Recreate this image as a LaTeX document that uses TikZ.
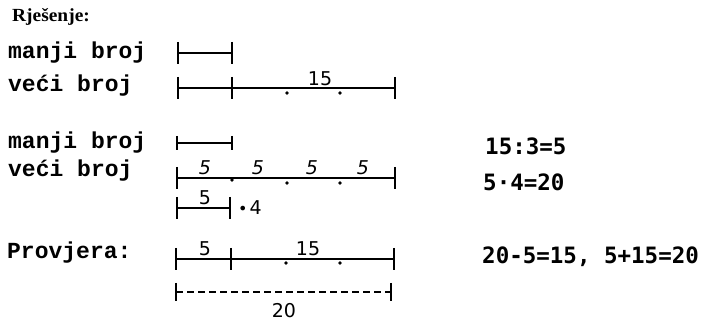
\documentclass[tikz,border=0pt]{standalone}
\usepackage{fontspec}
\newfontfamily\twfont{Liberation Mono}
\newfontfamily\eqfont{DejaVu Sans Mono}
\newfontfamily\numfont{DejaVu Sans}
\newfontfamily\headfont[FakeStretch=1.05]{Liberation Serif}
\begin{document}
\begin{tikzpicture}[x=1pt,y=-1pt,
  lab/.style={anchor=base west, inner sep=0pt, font=\twfont\bfseries\fontsize{23}{23}\selectfont},
  num/.style={anchor=base, inner sep=0pt, font=\numfont\fontsize{19}{19}\selectfont},
  eq/.style={anchor=base west, inner sep=0pt, font=\eqfont\bfseries\fontsize{22.5}{22.5}\selectfont},
  tk/.style={inner sep=0pt, minimum width=0pt, minimum height=#1},
  tk/.default=22,
  ln/.style={line width=1.6pt},
  dl/.style={line width=1.6pt, dash pattern=on 7pt off 4pt},
  dt/.style={circle, fill, inner sep=0pt, minimum size=3.6pt}]
\useasboundingbox (0,0) rectangle (706,321);

% heading
\node[anchor=base west, inner sep=0pt, font=\headfont\bfseries\fontsize{18.5}{18.5}\selectfont] (h) at (12,22) {Rješenje:};

% row 1
\node[lab] (t1) at (8,59) {manji broj};
\node[tk] (a1) at (178,53) {};
\node[tk] (b1) at (232,53) {};
\draw[ln] (a1.north) -- (a1.south) (b1.north) -- (b1.south) (a1.center) -- (b1.center);

% row 2
\node[lab] (t2) at (8,91) {veći broj};
\node[tk] (a2) at (178,88) {};
\node[tk] (b2) at (232,88) {};
\node[tk] (c2) at (395,88) {};
\draw[ln] (a2.north) -- (a2.south) (b2.north) -- (b2.south) (c2.north) -- (c2.south)
  (a2.center) -- (c2.center);
\node[dt] (d21) at (287,93) {};
\node[dt] (d22) at (340,93) {};
\node[num] (n21) at (320,85) {15};

% row 3
\node[lab] (t3) at (8,148) {manji broj};
\node[tk=14] (a3) at (177,143) {};
\node[tk=14] (b3) at (232,143) {};
\draw[ln] (a3.north) -- (a3.south) (b3.north) -- (b3.south) (a3.center) -- (b3.center);

% row 4
\node[lab] (t4) at (8,176) {veći broj};
\node[tk] (a4) at (177,178) {};
\node[tk] (c4) at (395,178) {};
\draw[ln] (a4.north) -- (a4.south) (c4.north) -- (c4.south) (a4.center) -- (c4.center);
\node[dt] (d41) at (232,180) {};
\node[dt] (d42) at (287,183) {};
\node[dt] (d43) at (340,183) {};
\node[num] (n41) at (205,174) {\itshape 5};
\node[num] (n42) at (258,174) {\itshape 5};
\node[num] (n43) at (312,174) {\itshape 5};
\node[num] (n44) at (363,174) {\itshape 5};

% row 5
\node[tk] (a5) at (177,208) {};
\node[tk] (b5) at (230,208) {};
\draw[ln] (a5.north) -- (a5.south) (b5.north) -- (b5.south) (a5.center) -- (b5.center);
\node[num] (n51) at (205,204) {5};
\node[num, anchor=base west] (n52) at (238,214) {{\fontsize{16}{16}\selectfont •}\hspace{2pt}4};

% check row
\node[lab] (t6) at (7,258) {Provjera:};
\node[tk] (a6) at (176,259) {};
\node[tk] (b6) at (231,259) {};
\node[tk] (c6) at (394,259) {};
\draw[ln] (a6.north) -- (a6.south) (b6.north) -- (b6.south) (c6.north) -- (c6.south)
  (a6.center) -- (c6.center);
\node[dt] (d61) at (286,263) {};
\node[dt] (d62) at (340,263) {};
\node[num] (n61) at (205,255) {5};
\node[num] (n62) at (308,255) {15};

% dashed total
\node[tk=18] (a7) at (176,292) {};
\node[tk=18] (c7) at (391,292) {};
\draw[ln] (a7.north) -- (a7.south) (c7.north) -- (c7.south);
\draw[dl] (a7.center) -- (c7.center);
\node[num] (n7) at (284,317) {20};

% equations
\node[eq] (e1) at (485,154) {15:3=5};
\node[eq] (e2) at (483,190) {5·4=20};
\node[eq] (e3) at (482,263) {20-5=15, 5+15=20};
\end{tikzpicture}
\end{document}
